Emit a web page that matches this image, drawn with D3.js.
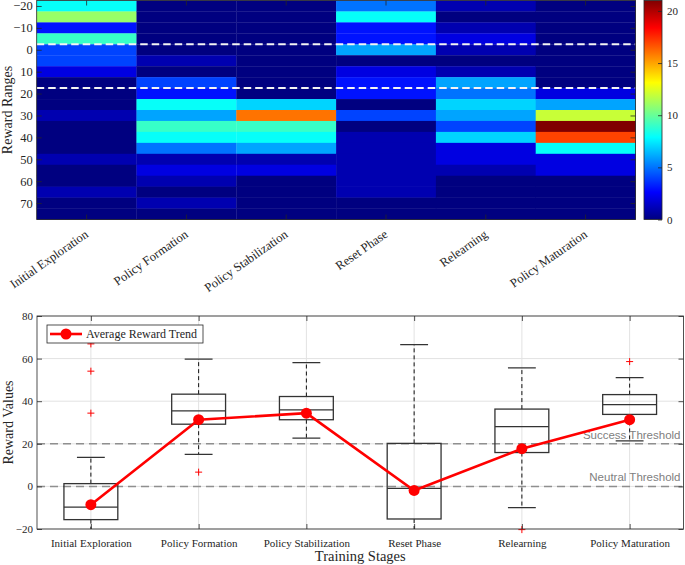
<!DOCTYPE html>
<html>
<head>
<meta charset="utf-8">
<script src="https://cdn.jsdelivr.net/npm/d3@7"></script>
<style>
  body { margin: 0; background: #fff; }
  svg { display: block; }
  .serif { font-family: 'Liberation Serif', 'Times New Roman', serif; fill: #262626; }
  .tick line { stroke: #262626; stroke-width: 0.8; }
  .tick text { font-family: 'Liberation Serif', 'Times New Roman', serif; fill: #262626; }
</style>
</head>
<body>
<script>
// --- data ---
const stages = ['Initial Exploration', 'Policy Formation', 'Policy Stabilization', 'Reset Phase', 'Relearning', 'Policy Maturation'];
const rewardBins = [-20, -15, -10, -5, 0, 5, 10, 15, 20, 25, 30, 35, 40, 45, 50, 55, 60, 65, 70, 75];

const countsInitialExploration = [8, 11, 3, 9, 4, 4, 2, 0, 0, 0, 1, 0, 0, 0, 1, 0, 0, 1, 0, 0];
const countsPolicyFormation = [0, 0, 0, 0, 0, 1, 0, 4, 3, 8, 6, 9, 8, 5, 1, 2, 1, 0, 1, 0];
const countsPolicyStabilization = [0, 0, 0, 0, 0, 0, 0, 0, 0, 7, 16, 9, 8, 6, 1, 2, 0, 0, 0, 0];
const countsResetPhase = [5, 8, 3, 3, 6, 0, 2, 3, 3, 0, 4, 0, 1, 1, 1, 1, 1, 1, 0, 0];
const countsRelearning = [1, 0, 1, 2, 1, 0, 1, 6, 5, 7, 6, 4, 7, 2, 2, 1, 0, 0, 0, 0];
const countsPolicyMaturation = [0, 0, 0, 0, 0, 0, 0, 0, 2, 6, 12, 21, 17, 8, 2, 2, 0, 0, 0, 0];

const heatYTicks = [-20, -10, 0, 10, 20, 30, 40, 50, 60, 70];
const heatLines = [-2.5, 17.5];
const colorTicks = [0, 5, 10, 15, 20];
const colorMax = 21;

const boxUpper = [13.6, 59.8, 58.1, 66.6, 55.6, 51.1];
const boxQ3 = [1.3, 43.3, 42.2, 20.2, 36.3, 43.1];
const boxMedian = [-9.7, 35.5, 35.9, -0.9, 28.1, 38.4];
const boxQ1 = [-15.6, 29.2, 31.3, -15.3, 15.9, 33.8];
const boxLower = [-22, 15.0, 22.7, -22, -10.0, 21.4];
const boxOutliers = [[66.9, 54.1, 34.4], [6.7], [], [], [-20.3], [58.6]];
const meanReward = [-8.6, 31.3, 34.4, -1.9, 17.7, 31.3];
const boxYTicks = [-20, 0, 20, 40, 60, 80];
const thresholdValues = [20, 0];
const thresholdLabels = ['Success Threshold', 'Neutral Threshold'];

const stageCounts = [countsInitialExploration, countsPolicyFormation, countsPolicyStabilization,
  countsResetPhase, countsRelearning, countsPolicyMaturation];

// --- helpers ---
function jet(t) {
  const c = v => Math.max(0, Math.min(1, v));
  const r = c(1.5 - Math.abs(4 * t - 3));
  const g = c(1.5 - Math.abs(4 * t - 2));
  const b = c(1.5 - Math.abs(4 * t - 1));
  return d3.rgb(r * 255, g * 255, b * 255).formatHex();
}

const svg = d3.select('body').append('svg')
  .attr('width', 685)
  .attr('height', 565);
const defs = svg.append('defs');

// ================= heatmap =================
const hm = { left: 36.7, right: 635.5, top: 0.5, bottom: 219.5 };
const binStep = 5;

const hx = d3.scaleBand().domain(stages).range([hm.left, hm.right]);
const hy = d3.scaleLinear()
  .domain([rewardBins[0] - binStep / 2, rewardBins[rewardBins.length - 1] + binStep / 2])
  .range([hm.top, hm.bottom]);
const color = d3.scaleLinear().domain([0, colorMax]).range([0, 1]).clamp(true);

const heat = svg.append('g').attr('class', 'heatmap');

stages.forEach(function(s, i) {
  heat.selectAll('.cell-' + i).data(stageCounts[i]).enter().append('rect')
    .attr('x', hx(s))
    .attr('width', hx.bandwidth() + 0.3)
    .attr('y', function(d, j) { return hy(rewardBins[j] - binStep / 2); })
    .attr('height', function(d, j) { return hy(rewardBins[j] + binStep / 2) - hy(rewardBins[j] - binStep / 2) + 0.3; })
    .attr('fill', function(d) { return jet(color(d)); });
});

heat.selectAll('.hline').data(heatLines).enter().append('line')
  .attr('x1', hm.left).attr('x2', hm.right)
  .attr('y1', d => hy(d)).attr('y2', d => hy(d))
  .attr('stroke', '#f4f4f4')
  .attr('stroke-width', 2)
  .attr('stroke-dasharray', '7.5,4');

heat.append('g')
  .attr('transform', `translate(${hm.left},0)`)
  .call(d3.axisLeft(hy).tickValues(heatYTicks).tickSize(-5).tickPadding(4))
  .call(g => g.select('.domain').remove())
  .selectAll('text').style('font-size', '12.5px');

heat.append('g')
  .attr('transform', `translate(${hm.right},0)`)
  .call(d3.axisRight(hy).tickValues(heatYTicks).tickSize(-5).tickFormat(''))
  .call(g => g.select('.domain').remove());

const hxCenter = d => hx(d) + hx.bandwidth() / 2;
heat.selectAll('.xt').data(stages).enter().append('line')
  .attr('x1', hxCenter).attr('x2', hxCenter)
  .attr('y1', hm.top).attr('y2', hm.top + 5)
  .attr('stroke', '#262626').attr('stroke-width', 0.8);
heat.selectAll('.xb').data(stages).enter().append('line')
  .attr('x1', hxCenter).attr('x2', hxCenter)
  .attr('y1', hm.bottom).attr('y2', hm.bottom - 5)
  .attr('stroke', '#262626').attr('stroke-width', 0.8);

heat.selectAll('.xlab').data(stages).enter().append('text')
  .attr('class', 'serif')
  .attr('transform', d => `translate(${hxCenter(d)},${hm.bottom + 13}) rotate(-35)`)
  .attr('text-anchor', 'end')
  .attr('dy', '0.35em')
  .style('font-size', '12.5px')
  .text(d => d);

heat.append('rect')
  .attr('x', hm.left).attr('y', hm.top)
  .attr('width', hm.right - hm.left).attr('height', hm.bottom - hm.top)
  .attr('fill', 'none').attr('stroke', '#262626').attr('stroke-width', 0.8);

heat.append('text')
  .attr('class', 'serif')
  .attr('transform', `translate(12,${(hm.top + hm.bottom) / 2}) rotate(-90)`)
  .attr('text-anchor', 'middle')
  .style('font-size', '14px')
  .text('Reward Ranges');

// colorbar
const cb = { x: 644, w: 18 };
const cy = d3.scaleLinear().domain([0, colorMax]).range([hm.bottom, hm.top]);
const grad = defs.append('linearGradient')
  .attr('id', 'jetgrad')
  .attr('x1', 0).attr('x2', 0).attr('y1', 1).attr('y2', 0);
grad.selectAll('stop').data([0, 0.125, 0.375, 0.625, 0.875, 1]).enter().append('stop')
  .attr('offset', d => d)
  .attr('stop-color', d => jet(d));

svg.append('rect')
  .attr('x', cb.x).attr('y', hm.top)
  .attr('width', cb.w).attr('height', hm.bottom - hm.top)
  .attr('fill', 'url(#jetgrad)')
  .attr('stroke', '#262626').attr('stroke-width', 0.8);

svg.append('g')
  .attr('transform', `translate(${cb.x + cb.w},0)`)
  .call(d3.axisRight(cy).tickValues(colorTicks).tickSize(-4).tickPadding(5))
  .call(g => g.select('.domain').remove())
  .selectAll('text').style('font-size', '11px');

// ================= box plot =================
const bp = { left: 37, right: 683.5, top: 316, bottom: 529 };
const bx = d3.scalePoint().domain(stages).range([bp.left, bp.right]).padding(0.5);
const by = d3.scaleLinear().domain([-20, 80]).range([bp.bottom, bp.top]);
const boxW = bx.step() * 0.5;
const capW = bx.step() * 0.24;

const box = svg.append('g').attr('class', 'boxplot');

defs.append('clipPath').attr('id', 'bpclip')
  .append('rect')
  .attr('x', bp.left).attr('y', bp.top)
  .attr('width', bp.right - bp.left).attr('height', bp.bottom - bp.top);

// grid
box.selectAll('.gy').data(boxYTicks).enter().append('line')
  .attr('x1', bp.left).attr('x2', bp.right)
  .attr('y1', d => by(d)).attr('y2', d => by(d))
  .attr('stroke', '#e2e2e2').attr('stroke-width', 1);
box.selectAll('.gx').data(stages).enter().append('line')
  .attr('x1', d => bx(d)).attr('x2', d => bx(d))
  .attr('y1', bp.top).attr('y2', bp.bottom)
  .attr('stroke', '#e2e2e2').attr('stroke-width', 1);

// thresholds
box.selectAll('.thr').data(thresholdValues).enter().append('line')
  .attr('x1', bp.left).attr('x2', bp.right)
  .attr('y1', d => by(d)).attr('y2', d => by(d))
  .attr('stroke', '#8f8f8f').attr('stroke-width', 1.5)
  .attr('stroke-dasharray', '8,5');

const bodies = box.append('g').attr('clip-path', 'url(#bpclip)');
stages.forEach(function(s, i) {
  const cx = bx(s);
  // whiskers
  bodies.append('line')
    .attr('x1', cx).attr('x2', cx)
    .attr('y1', by(boxQ3[i])).attr('y2', by(boxUpper[i]))
    .attr('stroke', '#111').attr('stroke-width', 1).attr('stroke-dasharray', '4,3');
  bodies.append('line')
    .attr('x1', cx).attr('x2', cx)
    .attr('y1', by(boxQ1[i])).attr('y2', by(boxLower[i]))
    .attr('stroke', '#111').attr('stroke-width', 1).attr('stroke-dasharray', '4,3');
  // caps
  [boxUpper[i], boxLower[i]].forEach(function(v) {
    bodies.append('line')
      .attr('x1', cx - capW / 2 - 1).attr('x2', cx + capW / 2 + 1)
      .attr('y1', by(v)).attr('y2', by(v))
      .attr('stroke', '#333').attr('stroke-width', 1.3);
  });
  // box
  bodies.append('rect')
    .attr('x', cx - boxW / 2).attr('width', boxW)
    .attr('y', by(boxQ3[i])).attr('height', by(boxQ1[i]) - by(boxQ3[i]))
    .attr('fill', 'none').attr('stroke', '#333').attr('stroke-width', 1.3);
  bodies.append('line')
    .attr('x1', cx - boxW / 2).attr('x2', cx + boxW / 2)
    .attr('y1', by(boxMedian[i])).attr('y2', by(boxMedian[i]))
    .attr('stroke', '#333').attr('stroke-width', 1.3);
  // outliers
  box.selectAll('.out-' + i).data(boxOutliers[i]).enter().append('path')
    .attr('d', d => `M${cx - 3.5},${by(d)}H${cx + 3.5}M${cx},${by(d) - 3.5}V${by(d) + 3.5}`)
    .attr('stroke', '#ff0000').attr('stroke-width', 1);
});

box.selectAll('.thrlab').data(thresholdValues).enter().append('text')
  .attr('x', bp.right - 3)
  .attr('y', d => by(d) - 5)
  .attr('text-anchor', 'end')
  .style('font-family', "'Liberation Sans', Arial, sans-serif")
  .style('font-size', '11.5px')
  .attr('fill', '#808080')
  .text((d, i) => thresholdLabels[i]);

// mean trend
box.append('path')
  .datum(meanReward)
  .attr('d', d3.line().x((d, i) => bx(stages[i])).y(d => by(d)))
  .attr('fill', 'none').attr('stroke', '#ff0000').attr('stroke-width', 2.6);
box.selectAll('.mean').data(meanReward).enter().append('circle')
  .attr('cx', (d, i) => bx(stages[i]))
  .attr('cy', d => by(d))
  .attr('r', 5.5)
  .attr('fill', '#ff0000');

// axes
box.append('g')
  .attr('transform', `translate(${bp.left},0)`)
  .call(d3.axisLeft(by).tickValues(boxYTicks).tickSize(-5).tickPadding(4))
  .call(g => g.select('.domain').remove())
  .selectAll('text').style('font-size', '11px');
box.append('g')
  .attr('transform', `translate(${bp.right},0)`)
  .call(d3.axisRight(by).tickValues(boxYTicks).tickSize(-5).tickFormat(''))
  .call(g => g.select('.domain').remove());
box.append('g')
  .attr('transform', `translate(0,${bp.bottom})`)
  .call(d3.axisBottom(bx).tickSize(-5).tickPadding(10))
  .call(g => g.select('.domain').remove())
  .selectAll('text').style('font-size', '11px');
box.append('g')
  .attr('transform', `translate(0,${bp.top})`)
  .call(d3.axisTop(bx).tickSize(-5).tickFormat(''))
  .call(g => g.select('.domain').remove());

box.append('rect')
  .attr('x', bp.left).attr('y', bp.top)
  .attr('width', bp.right - bp.left).attr('height', bp.bottom - bp.top)
  .attr('fill', 'none').attr('stroke', '#262626').attr('stroke-width', 0.8);

box.append('text')
  .attr('class', 'serif')
  .attr('transform', `translate(13,${(bp.top + bp.bottom) / 2}) rotate(-90)`)
  .attr('text-anchor', 'middle')
  .style('font-size', '14px')
  .text('Reward Values');

box.append('text')
  .attr('class', 'serif')
  .attr('x', (bp.left + bp.right) / 2)
  .attr('y', 561)
  .attr('text-anchor', 'middle')
  .style('font-size', '14.5px')
  .text('Training Stages');

// legend
const lg = box.append('g').attr('transform', 'translate(47,325)');
lg.append('rect')
  .attr('width', 156).attr('height', 18)
  .attr('fill', '#fff').attr('stroke', '#262626').attr('stroke-width', 0.8);
lg.append('line')
  .attr('x1', 3).attr('x2', 35).attr('y1', 9).attr('y2', 9)
  .attr('stroke', '#ff0000').attr('stroke-width', 2.6);
lg.append('circle')
  .attr('cx', 19).attr('cy', 9).attr('r', 5.5).attr('fill', '#ff0000');
lg.append('text')
  .attr('class', 'serif')
  .attr('x', 39).attr('y', 13.3)
  .style('font-size', '12px')
  .text('Average Reward Trend');
</script>
</body>
</html>
